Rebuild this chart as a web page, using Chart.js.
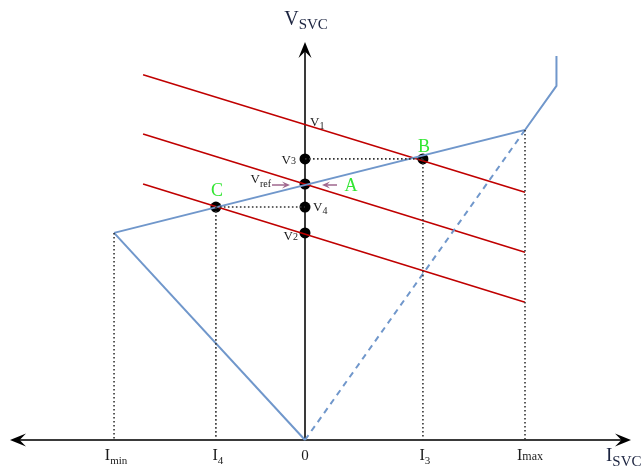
<!DOCTYPE html>
<html><head><meta charset="utf-8">
<script src="https://cdn.jsdelivr.net/npm/chart.js@4/dist/chart.umd.min.js"></script>
<style>html,body{margin:0;padding:0;background:#fff}#wrap{width:642px;height:467px;position:relative}</style>
</head><body><div id="wrap"><canvas id="c"></canvas></div>
<script>
// Current axis ticks (per unit of Imax)
const currentNames = ['min', '4', '0', '3', 'max'];
const currentValues = [-0.868, -0.405, 0, 0.536, 1.0];
// Voltage levels on the V axis (per unit of Vref)
const voltageNames = ['1', '3', 'ref', '4', '2'];
const voltageValues = [1.233, 1.098, 1.0, 0.91, 0.809];
// SVC characteristic (blue)
const charI = [-0.868, 1.0, 1.143, 1.143];
const charV = [0.809, 1.211, 1.383, 1.5];
const capI = [-0.868, 0];
const capV = [0.809, 0];
const indI = [0, 1.0];
const indV = [0, 1.211];
// System load lines (red)
const loadI = [-0.736, 1.0];
const loadTopV = [1.427, 0.968];
const loadMidV = [1.195, 0.733];
const loadBotV = [1.0, 0.538];
// Operating points
const opNames = ['A', 'B', 'C'];
const opI = [0, 0.536, -0.405];
const opV = [1.0, 1.098, 0.91];
// Dots on V axis and operating points
const dotI = [0, 0, 0, 0, 0.536, -0.405];
const dotV = [1.098, 1.0, 0.91, 0.809, 1.098, 0.91];
// Heights of the characteristic at the marked currents (for dotted drop lines)
const dropI = [-0.868, -0.405, 0.536, 1.0];
const dropV = [0.809, 0.91, 1.098, 1.211];

const pts = (xs, ys) => xs.map((x, i) => ({x: x, y: ys[i]}));
const BLUE = '#7097cb', RED = '#c00000', DOT = '#333333';
const line = (data, color, width, dash) => ({
  data: data, showLine: true, borderColor: color, borderWidth: width,
  borderDash: dash || [], pointRadius: 0, fill: false, tension: 0
});

const datasets = [];
dropI.forEach((x, i) => datasets.push(line(pts([x, x], [dropV[i], 0]), DOT, 1.6, [1.6, 2.4])));
datasets.push(line(pts([0, opI[1]], [opV[1], opV[1]]), DOT, 1.6, [1.6, 2.4]));
datasets.push(line(pts([opI[2], 0], [opV[2], opV[2]]), DOT, 1.6, [1.6, 2.4]));
datasets.push(line(pts(charI, charV), BLUE, 2));
datasets.push(line(pts(capI, capV), BLUE, 2));
datasets.push(line(pts(indI, indV), BLUE, 2, [6, 5]));
datasets.push(line(pts(loadI, loadTopV), RED, 1.6));
datasets.push(line(pts(loadI, loadMidV), RED, 1.6));
datasets.push(line(pts(loadI, loadBotV), RED, 1.6));
datasets.push({data: pts(dotI, dotV), showLine: false, pointRadius: 5.5,
  pointBackgroundColor: '#000', pointBorderColor: '#000', pointBorderWidth: 0});

const SERIF = '"Liberation Serif", "DejaVu Serif", serif';
function subText(ctx, main, sub, x, y, align, mSize, sSize, drop, color) {
  ctx.fillStyle = color;
  ctx.textBaseline = 'alphabetic';
  ctx.font = mSize + 'px ' + SERIF;
  const mw = ctx.measureText(main).width;
  ctx.font = sSize + 'px ' + SERIF;
  const sw = ctx.measureText(sub).width;
  let x0 = x;
  if (align === 'center') x0 = x - (mw + sw) / 2;
  if (align === 'right') x0 = x - (mw + sw);
  ctx.textAlign = 'left';
  ctx.font = mSize + 'px ' + SERIF;
  ctx.fillText(main, x0, y);
  ctx.font = sSize + 'px ' + SERIF;
  ctx.fillText(sub, x0 + mw, y + drop);
}
function arrowHead(ctx, tx, ty, dx, dy, len, half, color) {
  const nx = -dy, ny = dx;
  ctx.fillStyle = color;
  ctx.beginPath();
  ctx.moveTo(tx, ty);
  ctx.lineTo(tx - dx * len + nx * half, ty - dy * len + ny * half);
  ctx.lineTo(tx - dx * len * 0.6, ty - dy * len * 0.6);
  ctx.lineTo(tx - dx * len - nx * half, ty - dy * len - ny * half);
  ctx.closePath();
  ctx.fill();
}

const decor = {
  id: 'decor',
  beforeDatasetsDraw(chart) {
    const ctx = chart.ctx, xs = chart.scales.x, ys = chart.scales.y;
    const ox = xs.getPixelForValue(0), oy = ys.getPixelForValue(0);
    ctx.save();
    ctx.strokeStyle = '#3a3a3a';
    ctx.lineWidth = 2;
    ctx.beginPath();
    ctx.moveTo(14, oy); ctx.lineTo(626, oy);
    ctx.moveTo(ox, oy); ctx.lineTo(ox, 50);
    ctx.stroke();
    arrowHead(ctx, 631, oy, 1, 0, 16, 6.5, '#000');
    arrowHead(ctx, 10, oy, -1, 0, 16, 6.5, '#000');
    arrowHead(ctx, ox, 42, 0, -1, 16, 6.5, '#000');
    ctx.restore();
  },
  afterDatasetsDraw(chart) {
    const ctx = chart.ctx, xs = chart.scales.x, ys = chart.scales.y;
    const px = v => xs.getPixelForValue(v), py = v => ys.getPixelForValue(v);
    const ox = px(0), oy = py(0);
    const TXT = '#1b1b1b';
    ctx.save();
    // axis titles
    subText(ctx, 'V', 'SVC', ox + 1, 25, 'center', 20, 15, 4, '#1c2440');
    subText(ctx, 'I', 'SVC', 606, 461, 'left', 19, 15, 5, '#1c2440');
    // current ticks
    currentNames.forEach((n, i) => {
      const x = px(currentValues[i]);
      if (n === '0') {
        ctx.font = '15px ' + SERIF; ctx.fillStyle = TXT; ctx.textAlign = 'center';
        ctx.fillText('0', x, oy + 20);
      } else if (n === 'max') {
        subText(ctx, 'I', 'max', x + 5, oy + 20, 'center', 16, 12, 0, TXT);
      } else {
        subText(ctx, 'I', n, x + 2, oy + 20, 'center', 16, 11, 4, TXT);
      }
    });
    // voltage labels: [dx from axis, dy from level, align, subscript drop]
    const vPos = {
      '1': [5, 2, 'left', 3], '3': [-9, 5, 'right', 0], 'ref': [-34, -1, 'right', 4],
      '4': [8, 4, 'left', 3], '2': [-7, 7, 'right', 0]
    };
    voltageNames.forEach((n, i) => {
      const p = vPos[n];
      subText(ctx, 'V', n, ox + p[0], py(voltageValues[i]) + p[1], p[2], 13, 10, p[3], TXT);
    });
    // mauve arrows pointing at A
    const ay = py(opV[0]) + 1;
    ctx.strokeStyle = '#a0688f'; ctx.lineWidth = 1.6;
    ctx.beginPath();
    ctx.moveTo(ox - 33, ay); ctx.lineTo(ox - 20, ay);
    ctx.moveTo(ox + 32, ay); ctx.lineTo(ox + 21, ay);
    ctx.stroke();
    arrowHead(ctx, ox - 15, ay, 1, 0, 8, 3.5, '#a0688f');
    arrowHead(ctx, ox + 17, ay, -1, 0, 8, 3.5, '#a0688f');
    // operating point letters
    const GREEN = '#33e633';
    ctx.font = '18px ' + SERIF; ctx.fillStyle = GREEN; ctx.textAlign = 'center';
    ctx.fillText(opNames[0], px(opI[0]) + 46, py(opV[0]) + 7);
    ctx.fillText(opNames[1], px(opI[1]) + 1, py(opV[1]) - 7);
    ctx.fillText(opNames[2], px(opI[2]) + 1, py(opV[2]) - 11);
    ctx.restore();
  }
};

new Chart(document.getElementById('c'), {
  type: 'scatter',
  data: {datasets: datasets},
  options: {
    responsive: true, maintainAspectRatio: false, animation: false,
    layout: {padding: 0, autoPadding: false},
    plugins: {legend: {display: false}, tooltip: {enabled: false}},
    scales: {
      x: {type: 'linear', display: false, min: -305 / 220, max: 337 / 220},
      y: {type: 'linear', display: false, min: -27 / 256, max: 440 / 256}
    },
    elements: {line: {capBezierPoints: false}}
  },
  plugins: [decor]
});
</script></body></html>
